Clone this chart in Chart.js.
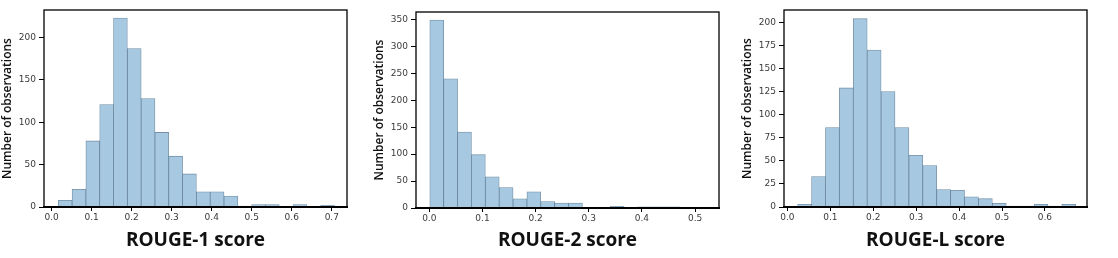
<!DOCTYPE html>
<html>
<head>
<meta charset="utf-8">
<script src="https://cdn.jsdelivr.net/npm/chart.js@4/dist/chart.umd.min.js"></script>
<style>
  body { margin: 0; background: #fff; width: 1118px; height: 258px; overflow: hidden; }
  .panel { position: absolute; top: 0; height: 258px; }
</style>
</head>
<body>
<div class="panel" style="left:0px;width:372px"><canvas id="c1"></canvas></div>
<div class="panel" style="left:372px;width:368px"><canvas id="c2"></canvas></div>
<div class="panel" style="left:740px;width:378px"><canvas id="c3"></canvas></div>
<script>
// histogram counts, 20 bins per metric
const rouge1Counts = [8, 21, 78, 121, 223, 187, 128, 88, 60, 39, 18, 18, 13, 1, 3, 3, 0, 3, 0, 2];
const rouge2Counts = [349, 240, 141, 99, 58, 38, 17, 30, 12, 9, 9, 0, 0, 3, 0, 2, 2, 2, 0, 1];
const rougeLCounts = [3, 33, 86, 129, 204, 170, 125, 86, 56, 45, 19, 18, 11, 9, 4, 1, 1, 3, 1, 3];

// bin layout (first edge, bin width)
const rouge1Bins = { start: 0.0167, width: 0.0345 };
const rouge2Bins = { start: 0.001, width: 0.0261 };
const rougeLBins = { start: 0.0238, width: 0.0324 };

const titles = ["ROUGE-1 score", "ROUGE-2 score", "ROUGE-L score"];
const yTitle = "Number of observations";

const frame = {
    id: "frame",
    afterDraw(chart) {
        const a = chart.chartArea, ctx = chart.ctx;
        ctx.save();
        ctx.strokeStyle = "#000";
        ctx.lineWidth = 1.3;
        ctx.strokeRect(a.left, a.top, a.right - a.left, a.bottom - a.top);
        ctx.lineWidth = 2.2;
        ctx.beginPath();
        ctx.moveTo(a.left - 1, a.bottom);
        ctx.lineTo(a.right + 1, a.bottom);
        ctx.stroke();
        ctx.restore();
    }
};

function histogram(id, counts, bins, title, opts) {
    const points = counts.map((c, i) => ({ x: bins.start + (i + 0.5) * bins.width, y: c }));
    return new Chart(document.getElementById(id), {
        type: "bar",
        data: {
            datasets: [{
                data: points,
                backgroundColor: "rgb(166,201,225)",
                borderColor: "rgba(70,105,135,0.75)",
                borderWidth: 0.8,
                barPercentage: 1,
                categoryPercentage: 1
            }]
        },
        options: {
            animation: false,
            responsive: true,
            maintainAspectRatio: false,
            layout: { padding: { top: opts.top, right: opts.right, left: 0, bottom: 0 } },
            plugins: { legend: { display: false }, tooltip: { enabled: false } },
            scales: {
                x: {
                    type: "linear",
                    offset: false,
                    min: opts.xmin, max: opts.xmax,
                    afterFit: s => { s.height = opts.xh; },
                    grid: { display: true, offset: false, drawOnChartArea: false, tickLength: 4, color: "#000", tickWidth: 1 },
                    border: { display: false },
                    ticks: {
                        stepSize: 0.1, includeBounds: false, padding: 1,
                        maxRotation: 0, color: "#3a3a3a",
                        font: { family: "DejaVu Sans", size: 9 },
                        callback: v => v.toFixed(1)
                    },
                    title: {
                        display: true, text: title, color: "#111",
                        font: { family: "Open Sans", size: 19, weight: "bold" },
                        padding: { top: 0, bottom: 6 }
                    }
                },
                y: {
                    min: 0, max: opts.ymax,
                    afterFit: s => { s.width = opts.yw; },
                    grid: { display: true, drawOnChartArea: false, tickLength: 5, color: "#000", tickWidth: 1 },
                    border: { display: false },
                    ticks: {
                        stepSize: opts.ystep, includeBounds: false, padding: 3,
                        color: "#3a3a3a", font: { family: "DejaVu Sans", size: 9 }
                    },
                    title: {
                        display: true, text: yTitle, color: "#111",
                        font: { family: "Open Sans", size: 12, weight: "600" },
                        padding: { top: 0, bottom: 0 }
                    }
                }
            }
        },
        plugins: [frame]
    });
}

histogram("c1", rouge1Counts, rouge1Bins, titles[0],
    { top: 10, right: 25, xh: 51, yw: 44, xmin: -0.019, xmax: 0.738, ymax: 232.5, ystep: 50 });
histogram("c2", rouge2Counts, rouge2Bins, titles[1],
    { top: 12, right: 21, xh: 50, yw: 44, xmin: -0.025, xmax: 0.545, ymax: 364, ystep: 50 });
histogram("c3", rougeLCounts, rougeLBins, titles[2],
    { top: 10, right: 31, xh: 51, yw: 44, xmin: -0.008, xmax: 0.698, ymax: 213.4, ystep: 25 });
</script>
</body>
</html>
